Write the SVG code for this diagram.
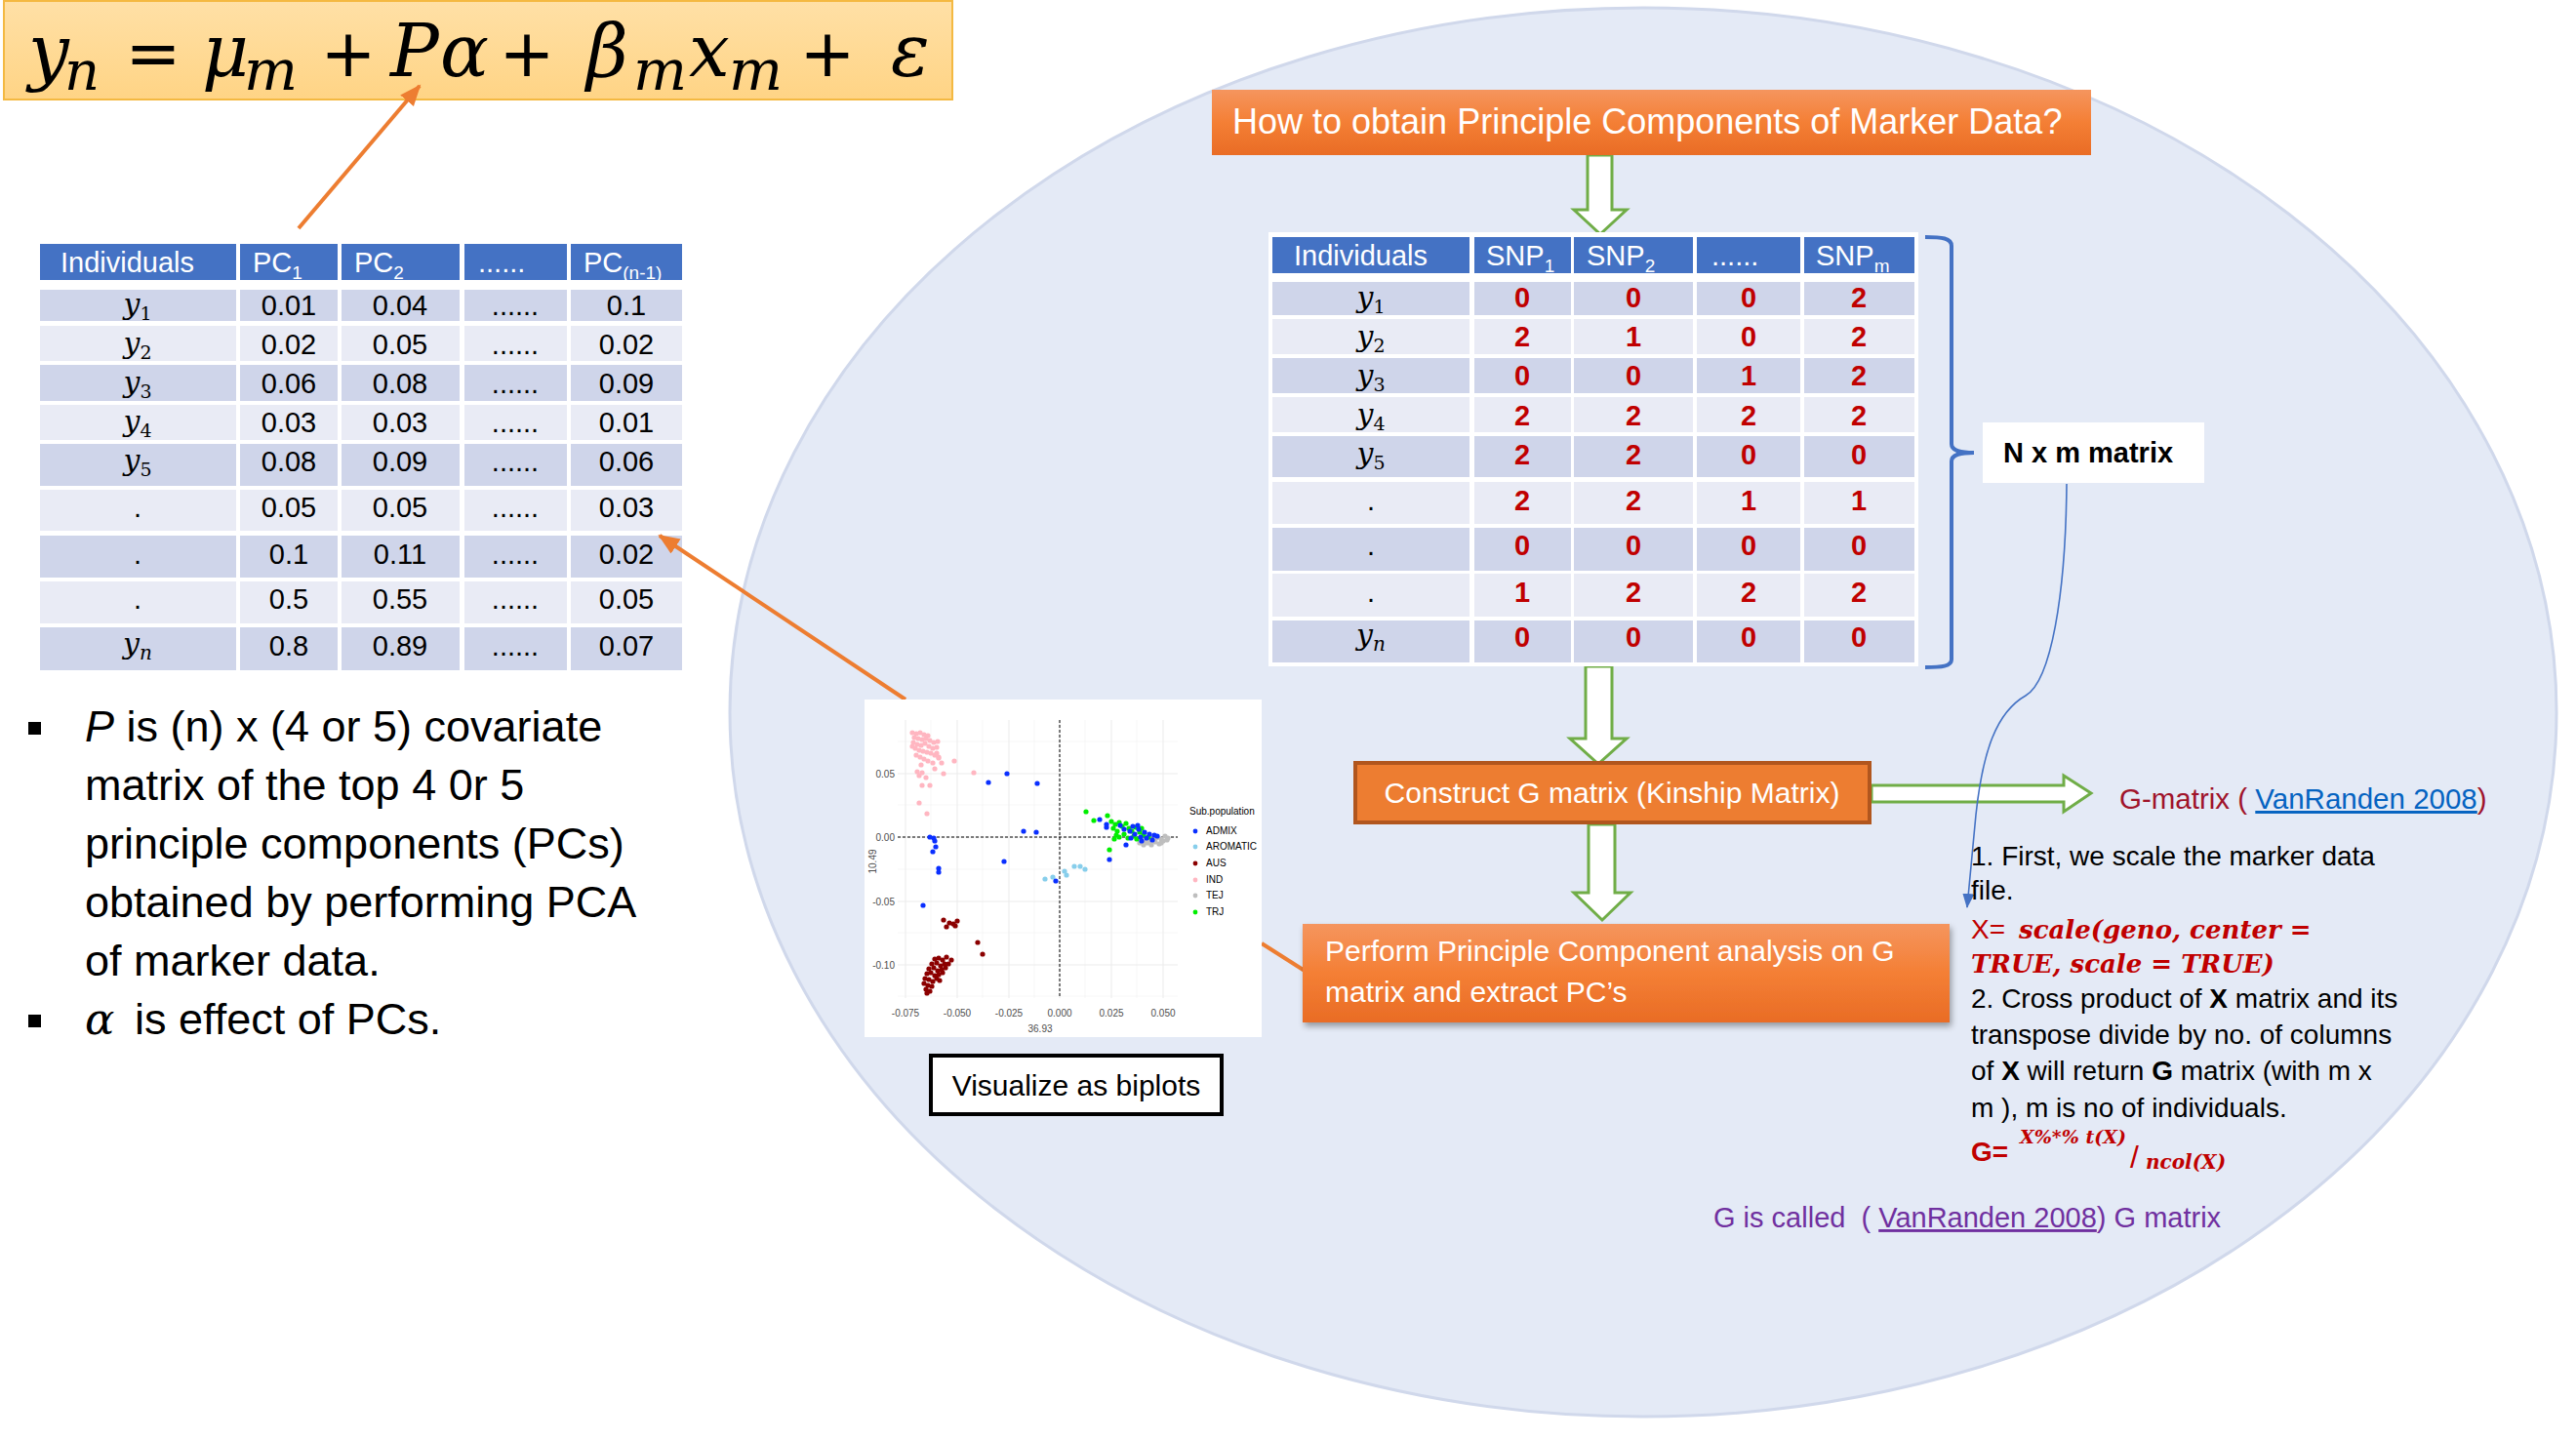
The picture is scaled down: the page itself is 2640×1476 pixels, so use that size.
<svg xmlns="http://www.w3.org/2000/svg" width="2640" height="1476" viewBox="0 0 2640 1476">
<defs>
<style>
.sans{font-family:"Liberation Sans",Arial,sans-serif}
.math{font-family:"DejaVu Serif","Liberation Serif",serif;font-style:italic}
.op{font-family:"DejaVu Sans","Liberation Sans",sans-serif;font-style:normal;text-anchor:middle}
.hd{fill:#4472C4}.dk{fill:#CFD5EA}.lt{fill:#E9EBF5}
.hdr{font-family:"Liberation Sans",Arial,sans-serif;fill:#fff;font-size:29px}
.cell{font-family:"Liberation Sans",Arial,sans-serif;font-size:29px;text-anchor:middle;fill:#000}
.yl{font-family:"DejaVu Serif","Liberation Serif",serif;font-style:italic;font-size:30px;text-anchor:middle;fill:#000}
.val{font-family:"Liberation Sans",Arial,sans-serif;font-size:29px;font-weight:bold;fill:#C00000;text-anchor:middle}
.garrow{fill:#fff;stroke:#70AD47;stroke-width:3;stroke-linejoin:miter}
.oline{stroke:#ED7D31;stroke-width:4;fill:none}
.grid{stroke:#EBEBEB;stroke-width:1}
.gridm{stroke:#F2F2F2;stroke-width:0.6}
.tick{font-family:"Liberation Sans",Arial,sans-serif;font-size:10px;fill:#4D4D4D}
.leg{font-family:"Liberation Sans",Arial,sans-serif;font-size:10px;fill:#000}
.body{font-family:"Liberation Sans",Arial,sans-serif;font-size:28px;fill:#000}
.rm{font-family:"DejaVu Serif","Liberation Serif",serif;font-style:italic;font-weight:bold;fill:#C00000}
.ind{fill:#FFB6C1}.adm{fill:#0A2FFF}.aro{fill:#87CEEB}.aus{fill:#8B0000}.tej{fill:#BEBEBE}.trj{fill:#00EE00}
</style>
<linearGradient id="eqg" x1="0" y1="0" x2="0" y2="1"><stop offset="0" stop-color="#FFE0A6"/><stop offset="1" stop-color="#FFD485"/></linearGradient>
<linearGradient id="og" x1="0" y1="0" x2="0" y2="1"><stop offset="0" stop-color="#F5955E"/><stop offset="0.5" stop-color="#F47F35"/><stop offset="1" stop-color="#E96C25"/></linearGradient>
<filter id="sh" x="-5%" y="-10%" width="110%" height="130%"><feDropShadow dx="2" dy="4" stdDeviation="3" flood-color="#000" flood-opacity="0.35"/></filter>
<marker id="oarr" markerUnits="userSpaceOnUse" markerWidth="24" markerHeight="20" refX="20" refY="9" orient="auto"><path d="M0,0 L22,9 L0,18 Z" fill="#ED7D31"/></marker>
<marker id="barr" markerUnits="userSpaceOnUse" markerWidth="16" markerHeight="14" refX="14" refY="6" orient="auto"><path d="M0,0 L15,6 L0,12 Z" fill="#4472C4"/></marker>
</defs>
<rect width="2640" height="1476" fill="#fff"/>
<ellipse id="bg-ellipse" cx="1684" cy="730" rx="936" ry="722" fill="#E4EAF6" stroke="#D0D8EB" stroke-width="3"/>

<g id="equation">
<rect x="4" y="1" width="972" height="101" fill="url(#eqg)" stroke="#F4B942" stroke-width="2"/>
<g class="math" fill="#000">
<text x="29" y="78" font-size="74">y</text>
<text x="66" y="92" font-size="56">n</text>
<text class="op" x="157" y="78" font-size="68">=</text>
<text x="207" y="78" font-size="74">μ</text>
<text x="250" y="92" font-size="58">m</text>
<text class="op" x="357" y="78" font-size="68">+</text>
<text x="400" y="78" font-size="74">P</text>
<text x="451" y="78" font-size="74">α</text>
<text class="op" x="540" y="78" font-size="68">+</text>
<text x="601" y="78" font-size="74">β</text>
<text x="649" y="92" font-size="58">m</text>
<text x="706" y="78" font-size="74">x</text>
<text x="747" y="92" font-size="58">m</text>
<text class="op" x="848" y="78" font-size="68">+</text>
<text x="913" y="78" font-size="74">ε</text>
</g>
</g>

<g id="pc-table">
<rect class="hd" x="41" y="250" width="201" height="37"/><rect class="hd" x="246" y="250" width="100" height="37"/><rect class="hd" x="350" y="250" width="121" height="37"/><rect class="hd" x="476" y="250" width="105" height="37"/><rect class="hd" x="585" y="250" width="114" height="37"/>
<g>
<rect class="dk" x="41" y="297" width="201" height="32"/><rect class="dk" x="246" y="297" width="100" height="32"/><rect class="dk" x="350" y="297" width="121" height="32"/><rect class="dk" x="476" y="297" width="105" height="32"/><rect class="dk" x="585" y="297" width="114" height="32"/>
<rect class="lt" x="41" y="334" width="201" height="36"/><rect class="lt" x="246" y="334" width="100" height="36"/><rect class="lt" x="350" y="334" width="121" height="36"/><rect class="lt" x="476" y="334" width="105" height="36"/><rect class="lt" x="585" y="334" width="114" height="36"/>
<rect class="dk" x="41" y="374" width="201" height="37"/><rect class="dk" x="246" y="374" width="100" height="37"/><rect class="dk" x="350" y="374" width="121" height="37"/><rect class="dk" x="476" y="374" width="105" height="37"/><rect class="dk" x="585" y="374" width="114" height="37"/>
<rect class="lt" x="41" y="415" width="201" height="36"/><rect class="lt" x="246" y="415" width="100" height="36"/><rect class="lt" x="350" y="415" width="121" height="36"/><rect class="lt" x="476" y="415" width="105" height="36"/><rect class="lt" x="585" y="415" width="114" height="36"/>
<rect class="dk" x="41" y="455" width="201" height="43"/><rect class="dk" x="246" y="455" width="100" height="43"/><rect class="dk" x="350" y="455" width="121" height="43"/><rect class="dk" x="476" y="455" width="105" height="43"/><rect class="dk" x="585" y="455" width="114" height="43"/>
<rect class="lt" x="41" y="502" width="201" height="42"/><rect class="lt" x="246" y="502" width="100" height="42"/><rect class="lt" x="350" y="502" width="121" height="42"/><rect class="lt" x="476" y="502" width="105" height="42"/><rect class="lt" x="585" y="502" width="114" height="42"/>
<rect class="dk" x="41" y="549" width="201" height="43"/><rect class="dk" x="246" y="549" width="100" height="43"/><rect class="dk" x="350" y="549" width="121" height="43"/><rect class="dk" x="476" y="549" width="105" height="43"/><rect class="dk" x="585" y="549" width="114" height="43"/>
<rect class="lt" x="41" y="596" width="201" height="43"/><rect class="lt" x="246" y="596" width="100" height="43"/><rect class="lt" x="350" y="596" width="121" height="43"/><rect class="lt" x="476" y="596" width="105" height="43"/><rect class="lt" x="585" y="596" width="114" height="43"/>
<rect class="dk" x="41" y="643" width="201" height="44"/><rect class="dk" x="246" y="643" width="100" height="44"/><rect class="dk" x="350" y="643" width="121" height="44"/><rect class="dk" x="476" y="643" width="105" height="44"/><rect class="dk" x="585" y="643" width="114" height="44"/>
</g>
<text class="hdr" x="62" y="279">Individuals</text>
<text class="hdr" x="259" y="279">PC<tspan font-size="19" dy="7">1</tspan></text>
<text class="hdr" x="363" y="279">PC<tspan font-size="19" dy="7">2</tspan></text>
<text class="hdr" x="490" y="279">......</text>
<text class="hdr" x="598" y="279">PC<tspan font-size="19" dy="7">(n-1)</tspan></text>
<text class="yl" x="141" y="322">y<tspan font-size="19" font-style="normal" dy="6">1</tspan></text>
<text class="yl" x="141" y="362">y<tspan font-size="19" font-style="normal" dy="6">2</tspan></text>
<text class="yl" x="141" y="402">y<tspan font-size="19" font-style="normal" dy="6">3</tspan></text>
<text class="yl" x="141" y="442">y<tspan font-size="19" font-style="normal" dy="6">4</tspan></text>
<text class="yl" x="141" y="482">y<tspan font-size="19" font-style="normal" dy="6">5</tspan></text>
<text class="cell" x="141" y="530">.</text>
<text class="cell" x="141" y="578">.</text>
<text class="cell" x="141" y="624">.</text>
<text class="yl" x="141" y="670">y<tspan font-size="20" dy="6">n</tspan></text>
<g class="cell">
<text x="296" y="323">0.01</text><text x="410" y="323">0.04</text><text x="528" y="323">......</text><text x="642" y="323">0.1</text>
<text x="296" y="363">0.02</text><text x="410" y="363">0.05</text><text x="528" y="363">......</text><text x="642" y="363">0.02</text>
<text x="296" y="403">0.06</text><text x="410" y="403">0.08</text><text x="528" y="403">......</text><text x="642" y="403">0.09</text>
<text x="296" y="443">0.03</text><text x="410" y="443">0.03</text><text x="528" y="443">......</text><text x="642" y="443">0.01</text>
<text x="296" y="483">0.08</text><text x="410" y="483">0.09</text><text x="528" y="483">......</text><text x="642" y="483">0.06</text>
<text x="296" y="530">0.05</text><text x="410" y="530">0.05</text><text x="528" y="530">......</text><text x="642" y="530">0.03</text>
<text x="296" y="578">0.1</text><text x="410" y="578">0.11</text><text x="528" y="578">......</text><text x="642" y="578">0.02</text>
<text x="296" y="624">0.5</text><text x="410" y="624">0.55</text><text x="528" y="624">......</text><text x="642" y="624">0.05</text>
<text x="296" y="672">0.8</text><text x="410" y="672">0.89</text><text x="528" y="672">......</text><text x="642" y="672">0.07</text>
</g>
</g>

<g id="bullets">
<rect x="29" y="740" width="13" height="13" fill="#000"/>
<rect x="29" y="1040" width="13" height="13" fill="#000"/>
<g class="sans" font-size="45" fill="#000">
<text x="87" y="760"><tspan font-style="italic">P</tspan> is (n) x (4 or 5) covariate</text>
<text x="87" y="820">matrix of the top 4 0r 5</text>
<text x="87" y="880">principle components (PCs)</text>
<text x="87" y="940">obtained by performing PCA</text>
<text x="87" y="1000">of marker data.</text>
<text x="87" y="1060"><tspan font-family="DejaVu Serif, serif" font-style="italic">α</tspan><tspan x="138">is effect of PCs.</tspan></text>
</g>
</g>

<g id="connectors">
<line class="oline" x1="306" y1="234" x2="430" y2="88" marker-end="url(#oarr)"/>
<line class="oline" x1="928" y1="717" x2="676" y2="549" marker-end="url(#oarr)"/>
<line class="oline" x1="1293" y1="967" x2="1337" y2="995"/>
<polygon class="garrow" points="1627,159 1652,159 1652,215 1667,215 1640,240 1613,215 1627,215"/>
<polygon class="garrow" points="1625,683 1652,683 1652,757 1667,757 1638,783 1609,757 1625,757"/>
<polygon class="garrow" points="1628,845 1655,845 1655,915 1671,915 1642,943 1613,915 1628,915"/>
<polygon class="garrow" points="1918,805 2115,805 2115,795 2143,813 2115,832 2115,822 1918,822"/>
<path d="M2118,496 C2117,610 2102,698 2076,713 C2046,730 2032,770 2025,835 L2016,930" fill="none" stroke="#4472C4" stroke-width="1.6" marker-end="url(#barr)"/>
</g>

<g id="plot">
<rect x="886" y="717" width="407" height="346" fill="#fff"/>
<g class="gridm">
<line x1="920" y1="760" x2="1207" y2="760"/><line x1="920" y1="825" x2="1207" y2="825"/><line x1="920" y1="891" x2="1207" y2="891"/><line x1="920" y1="956" x2="1207" y2="956"/><line x1="920" y1="1021" x2="1207" y2="1021"/>
<line x1="954" y1="738" x2="954" y2="1023"/><line x1="1007" y1="738" x2="1007" y2="1023"/><line x1="1060" y1="738" x2="1060" y2="1023"/><line x1="1112" y1="738" x2="1112" y2="1023"/><line x1="1165" y1="738" x2="1165" y2="1023"/>
</g>
<g class="grid">
<line x1="920" y1="793" x2="1207" y2="793"/><line x1="920" y1="858" x2="1207" y2="858"/><line x1="920" y1="924" x2="1207" y2="924"/><line x1="920" y1="989" x2="1207" y2="989"/>
<line x1="928" y1="738" x2="928" y2="1023"/><line x1="981" y1="738" x2="981" y2="1023"/><line x1="1034" y1="738" x2="1034" y2="1023"/><line x1="1086" y1="738" x2="1086" y2="1023"/><line x1="1139" y1="738" x2="1139" y2="1023"/><line x1="1192" y1="738" x2="1192" y2="1023"/>
</g>
<line x1="1086" y1="738" x2="1086" y2="1023" stroke="#000" stroke-width="1" stroke-dasharray="3,2"/>
<line x1="920" y1="858" x2="1207" y2="858" stroke="#000" stroke-width="1.2" stroke-dasharray="3,2"/>
<g class="ind">
<circle cx="935" cy="751" r="2.6"/><circle cx="939" cy="752" r="2.6"/><circle cx="943" cy="751" r="2.6"/><circle cx="947" cy="753" r="2.6"/><circle cx="951" cy="754" r="2.6"/><circle cx="937" cy="756" r="2.6"/><circle cx="941" cy="757" r="2.6"/><circle cx="945" cy="758" r="2.6"/><circle cx="949" cy="757" r="2.6"/><circle cx="953" cy="759" r="2.6"/><circle cx="957" cy="761" r="2.6"/><circle cx="961" cy="760" r="2.6"/><circle cx="936" cy="761" r="2.6"/><circle cx="940" cy="763" r="2.6"/><circle cx="944" cy="764" r="2.6"/><circle cx="948" cy="762" r="2.6"/><circle cx="952" cy="765" r="2.6"/><circle cx="956" cy="767" r="2.6"/><circle cx="960" cy="766" r="2.6"/><circle cx="938" cy="767" r="2.6"/><circle cx="942" cy="769" r="2.6"/><circle cx="946" cy="770" r="2.6"/><circle cx="950" cy="771" r="2.6"/><circle cx="954" cy="772" r="2.6"/><circle cx="958" cy="774" r="2.6"/><circle cx="962" cy="776" r="2.6"/><circle cx="935" cy="765" r="2.6"/><circle cx="939" cy="774" r="2.6"/><circle cx="943" cy="776" r="2.6"/><circle cx="947" cy="778" r="2.6"/><circle cx="951" cy="780" r="2.6"/><circle cx="956" cy="782" r="2.6"/><circle cx="960" cy="772" r="2.6"/><circle cx="962" cy="777" r="2.6"/><circle cx="965" cy="782" r="2.6"/><circle cx="967" cy="793" r="2.6"/><circle cx="940" cy="791" r="2.6"/><circle cx="942" cy="795" r="2.6"/><circle cx="945" cy="792" r="2.6"/><circle cx="949" cy="797" r="2.6"/><circle cx="945" cy="805" r="2.6"/><circle cx="953" cy="805" r="2.6"/><circle cx="942" cy="823" r="2.6"/><circle cx="950" cy="834" r="2.6"/><circle cx="978" cy="780" r="2.6"/><circle cx="998" cy="792" r="2.6"/><circle cx="944" cy="784" r="2.6"/><circle cx="958" cy="788" r="2.6"/>
</g>
<g class="aro">
<circle cx="1071" cy="901" r="2.6"/><circle cx="1079" cy="899" r="2.6"/><circle cx="1091" cy="893" r="2.6"/><circle cx="1093" cy="897" r="2.6"/><circle cx="1101" cy="888" r="2.6"/><circle cx="1107" cy="888" r="2.6"/><circle cx="1112" cy="891" r="2.6"/>
</g>
<g class="tej">
<circle cx="1170" cy="860" r="2.6"/><circle cx="1174" cy="863" r="2.6"/><circle cx="1178" cy="857" r="2.6"/><circle cx="1182" cy="861" r="2.6"/><circle cx="1186" cy="858" r="2.6"/><circle cx="1190" cy="860" r="2.6"/><circle cx="1194" cy="857" r="2.6"/><circle cx="1197" cy="859" r="2.6"/><circle cx="1172" cy="866" r="2.6"/><circle cx="1176" cy="864" r="2.6"/><circle cx="1180" cy="866" r="2.6"/><circle cx="1184" cy="863" r="2.6"/><circle cx="1188" cy="865" r="2.6"/><circle cx="1192" cy="862" r="2.6"/><circle cx="1196" cy="861" r="2.6"/><circle cx="1168" cy="864" r="2.6"/><circle cx="1185" cy="859" r="2.6"/><circle cx="1178" cy="862" r="2.6"/><circle cx="1190" cy="864" r="2.6"/>
</g>
<g class="trj">
<circle cx="1113" cy="832" r="2.6"/><circle cx="1121" cy="841" r="2.6"/><circle cx="1135" cy="836" r="2.6"/><circle cx="1137" cy="871" r="2.6"/><circle cx="1139" cy="842" r="2.6"/><circle cx="1143" cy="845" r="2.6"/><circle cx="1147" cy="843" r="2.6"/><circle cx="1141" cy="849" r="2.6"/><circle cx="1145" cy="852" r="2.6"/><circle cx="1150" cy="847" r="2.6"/><circle cx="1154" cy="844" r="2.6"/><circle cx="1157" cy="849" r="2.6"/><circle cx="1152" cy="855" r="2.6"/><circle cx="1160" cy="852" r="2.6"/><circle cx="1164" cy="848" r="2.6"/><circle cx="1168" cy="853" r="2.6"/><circle cx="1162" cy="857" r="2.6"/><circle cx="1156" cy="859" r="2.6"/><circle cx="1172" cy="856" r="2.6"/><circle cx="1147" cy="858" r="2.6"/><circle cx="1144" cy="856" r="2.6"/><circle cx="1170" cy="849" r="2.6"/><circle cx="1165" cy="860" r="2.6"/><circle cx="1177" cy="858" r="2.6"/><circle cx="1142" cy="860" r="2.6"/>
</g>
<g class="adm">
<circle cx="1032" cy="793" r="2.6"/><circle cx="1013" cy="802" r="2.6"/><circle cx="1063" cy="803" r="2.6"/><circle cx="1049" cy="852" r="2.6"/><circle cx="1062" cy="853" r="2.6"/><circle cx="953" cy="858" r="2.6"/><circle cx="957" cy="859" r="2.6"/><circle cx="958" cy="862" r="2.6"/><circle cx="959" cy="868" r="2.6"/><circle cx="956" cy="873" r="2.6"/><circle cx="962" cy="890" r="2.6"/><circle cx="962" cy="894" r="2.6"/><circle cx="1029" cy="883" r="2.6"/><circle cx="946" cy="928" r="2.6"/><circle cx="1082" cy="903" r="2.6"/><circle cx="1127" cy="840" r="2.6"/><circle cx="1134" cy="845" r="2.6"/><circle cx="1134" cy="848" r="2.6"/><circle cx="1154" cy="866" r="2.6"/><circle cx="1137" cy="881" r="2.6"/><circle cx="1148" cy="846" r="2.6"/><circle cx="1152" cy="850" r="2.6"/><circle cx="1158" cy="852" r="2.6"/><circle cx="1161" cy="847" r="2.6"/><circle cx="1163" cy="855" r="2.6"/><circle cx="1167" cy="850" r="2.6"/><circle cx="1169" cy="858" r="2.6"/><circle cx="1173" cy="853" r="2.6"/><circle cx="1175" cy="859" r="2.6"/><circle cx="1178" cy="855" r="2.6"/><circle cx="1181" cy="861" r="2.6"/><circle cx="1183" cy="856" r="2.6"/><circle cx="1159" cy="859" r="2.6"/><circle cx="1170" cy="862" r="2.6"/><circle cx="1186" cy="857" r="2.6"/><circle cx="1166" cy="846" r="2.6"/>
</g>
<g class="aus">
<circle cx="958" cy="983" r="2.6"/><circle cx="962" cy="982" r="2.6"/><circle cx="966" cy="984" r="2.6"/><circle cx="955" cy="988" r="2.6"/><circle cx="960" cy="987" r="2.6"/><circle cx="964" cy="990" r="2.6"/><circle cx="968" cy="988" r="2.6"/><circle cx="952" cy="993" r="2.6"/><circle cx="957" cy="992" r="2.6"/><circle cx="961" cy="995" r="2.6"/><circle cx="965" cy="994" r="2.6"/><circle cx="969" cy="992" r="2.6"/><circle cx="950" cy="998" r="2.6"/><circle cx="954" cy="997" r="2.6"/><circle cx="958" cy="1000" r="2.6"/><circle cx="962" cy="999" r="2.6"/><circle cx="966" cy="997" r="2.6"/><circle cx="948" cy="1003" r="2.6"/><circle cx="952" cy="1004" r="2.6"/><circle cx="956" cy="1006" r="2.6"/><circle cx="960" cy="1003" r="2.6"/><circle cx="947" cy="1008" r="2.6"/><circle cx="951" cy="1010" r="2.6"/><circle cx="955" cy="1011" r="2.6"/><circle cx="949" cy="1014" r="2.6"/><circle cx="953" cy="1016" r="2.6"/><circle cx="972" cy="988" r="2.6"/><circle cx="975" cy="984" r="2.6"/><circle cx="963" cy="1005" r="2.6"/><circle cx="970" cy="981" r="2.6"/><circle cx="950" cy="1018" r="2.6"/><circle cx="970" cy="950" r="2.6"/><circle cx="967" cy="943" r="2.6"/><circle cx="973" cy="946" r="2.6"/><circle cx="977" cy="947" r="2.6"/><circle cx="981" cy="944" r="2.6"/><circle cx="979" cy="949" r="2.6"/><circle cx="1002" cy="966" r="2.6"/><circle cx="1007" cy="978" r="2.6"/>
</g>
<g class="tick" text-anchor="end">
<text x="917" y="797">0.05</text><text x="917" y="862">0.00</text><text x="917" y="928">-0.05</text><text x="917" y="993">-0.10</text>
</g>
<g class="tick" text-anchor="middle">
<text x="928" y="1042">-0.075</text><text x="981" y="1042">-0.050</text><text x="1034" y="1042">-0.025</text><text x="1086" y="1042">0.000</text><text x="1139" y="1042">0.025</text><text x="1192" y="1042">0.050</text>
<text x="1066" y="1058">36.93</text>
<text x="0" y="0" transform="translate(898,883) rotate(-90)">10.49</text>
</g>
<text class="leg" x="1219" y="835">Sub.population</text>
<circle class="adm" cx="1225" cy="852" r="2.4"/><circle class="aro" cx="1225" cy="868" r="2.4"/><circle class="aus" cx="1225" cy="885" r="2.4"/><circle class="ind" cx="1225" cy="902" r="2.4"/><circle class="tej" cx="1225" cy="918" r="2.4"/><circle class="trj" cx="1225" cy="935" r="2.4"/>
<g class="leg" font-size="9">
<text x="1236" y="855">ADMIX</text><text x="1236" y="871">AROMATIC</text><text x="1236" y="888">AUS</text><text x="1236" y="905">IND</text><text x="1236" y="921">TEJ</text><text x="1236" y="938">TRJ</text>
</g>
</g>

<g id="biplot-label">
<rect x="954" y="1082" width="298" height="60" fill="#fff" stroke="#000" stroke-width="4"/>
<text class="sans" x="1103" y="1123" font-size="30" text-anchor="middle" fill="#000">Visualize as biplots</text>
</g>

<g id="question-box">
<rect x="1242" y="92" width="901" height="67" fill="url(#og)"/>
<text class="sans" x="1263" y="137" font-size="36" fill="#fff">How to obtain Principle Components of Marker Data?</text>
</g>

<g id="snp-table">
<rect x="1300" y="238" width="666" height="445" fill="#fff"/>
<rect class="hd" x="1304" y="243" width="202" height="37"/><rect class="hd" x="1511" y="243" width="99" height="37"/><rect class="hd" x="1613" y="243" width="122" height="37"/><rect class="hd" x="1739" y="243" width="106" height="37"/><rect class="hd" x="1849" y="243" width="113" height="37"/>
<rect class="dk" x="1304" y="289" width="202" height="34"/><rect class="dk" x="1511" y="289" width="99" height="34"/><rect class="dk" x="1613" y="289" width="122" height="34"/><rect class="dk" x="1739" y="289" width="106" height="34"/><rect class="dk" x="1849" y="289" width="113" height="34"/>
<rect class="lt" x="1304" y="327" width="202" height="36"/><rect class="lt" x="1511" y="327" width="99" height="36"/><rect class="lt" x="1613" y="327" width="122" height="36"/><rect class="lt" x="1739" y="327" width="106" height="36"/><rect class="lt" x="1849" y="327" width="113" height="36"/>
<rect class="dk" x="1304" y="367" width="202" height="36"/><rect class="dk" x="1511" y="367" width="99" height="36"/><rect class="dk" x="1613" y="367" width="122" height="36"/><rect class="dk" x="1739" y="367" width="106" height="36"/><rect class="dk" x="1849" y="367" width="113" height="36"/>
<rect class="lt" x="1304" y="407" width="202" height="36"/><rect class="lt" x="1511" y="407" width="99" height="36"/><rect class="lt" x="1613" y="407" width="122" height="36"/><rect class="lt" x="1739" y="407" width="106" height="36"/><rect class="lt" x="1849" y="407" width="113" height="36"/>
<rect class="dk" x="1304" y="447" width="202" height="42"/><rect class="dk" x="1511" y="447" width="99" height="42"/><rect class="dk" x="1613" y="447" width="122" height="42"/><rect class="dk" x="1739" y="447" width="106" height="42"/><rect class="dk" x="1849" y="447" width="113" height="42"/>
<rect class="lt" x="1304" y="494" width="202" height="43"/><rect class="lt" x="1511" y="494" width="99" height="43"/><rect class="lt" x="1613" y="494" width="122" height="43"/><rect class="lt" x="1739" y="494" width="106" height="43"/><rect class="lt" x="1849" y="494" width="113" height="43"/>
<rect class="dk" x="1304" y="541" width="202" height="44"/><rect class="dk" x="1511" y="541" width="99" height="44"/><rect class="dk" x="1613" y="541" width="122" height="44"/><rect class="dk" x="1739" y="541" width="106" height="44"/><rect class="dk" x="1849" y="541" width="113" height="44"/>
<rect class="lt" x="1304" y="588" width="202" height="44"/><rect class="lt" x="1511" y="588" width="99" height="44"/><rect class="lt" x="1613" y="588" width="122" height="44"/><rect class="lt" x="1739" y="588" width="106" height="44"/><rect class="lt" x="1849" y="588" width="113" height="44"/>
<rect class="dk" x="1304" y="636" width="202" height="43"/><rect class="dk" x="1511" y="636" width="99" height="43"/><rect class="dk" x="1613" y="636" width="122" height="43"/><rect class="dk" x="1739" y="636" width="106" height="43"/><rect class="dk" x="1849" y="636" width="113" height="43"/>
<text class="hdr" x="1326" y="272">Individuals</text>
<text class="hdr" x="1523" y="272">SNP<tspan font-size="19" dy="7">1</tspan></text>
<text class="hdr" x="1626" y="272">SNP<tspan font-size="19" dy="7">2</tspan></text>
<text class="hdr" x="1754" y="272">......</text>
<text class="hdr" x="1861" y="272">SNP<tspan font-size="19" dy="7">m</tspan></text>
<text class="yl" x="1405" y="315">y<tspan font-size="19" font-style="normal" dy="6">1</tspan></text>
<text class="yl" x="1405" y="355">y<tspan font-size="19" font-style="normal" dy="6">2</tspan></text>
<text class="yl" x="1405" y="395">y<tspan font-size="19" font-style="normal" dy="6">3</tspan></text>
<text class="yl" x="1405" y="435">y<tspan font-size="19" font-style="normal" dy="6">4</tspan></text>
<text class="yl" x="1405" y="475">y<tspan font-size="19" font-style="normal" dy="6">5</tspan></text>
<text class="cell" x="1405" y="523">.</text>
<text class="cell" x="1405" y="569">.</text>
<text class="cell" x="1405" y="617">.</text>
<text class="yl" x="1405" y="661">y<tspan font-size="20" dy="6">n</tspan></text>
<g class="val">
<text x="1560" y="315">0</text><text x="1674" y="315">0</text><text x="1792" y="315">0</text><text x="1905" y="315">2</text>
<text x="1560" y="355">2</text><text x="1674" y="355">1</text><text x="1792" y="355">0</text><text x="1905" y="355">2</text>
<text x="1560" y="395">0</text><text x="1674" y="395">0</text><text x="1792" y="395">1</text><text x="1905" y="395">2</text>
<text x="1560" y="436">2</text><text x="1674" y="436">2</text><text x="1792" y="436">2</text><text x="1905" y="436">2</text>
<text x="1560" y="476">2</text><text x="1674" y="476">2</text><text x="1792" y="476">0</text><text x="1905" y="476">0</text>
<text x="1560" y="523">2</text><text x="1674" y="523">2</text><text x="1792" y="523">1</text><text x="1905" y="523">1</text>
<text x="1560" y="569">0</text><text x="1674" y="569">0</text><text x="1792" y="569">0</text><text x="1905" y="569">0</text>
<text x="1560" y="617">1</text><text x="1674" y="617">2</text><text x="1792" y="617">2</text><text x="1905" y="617">2</text>
<text x="1560" y="663">0</text><text x="1674" y="663">0</text><text x="1792" y="663">0</text><text x="1905" y="663">0</text>
</g>
</g>

<g id="brace">
<path d="M1973,243 C1990,243 2000,244 2000,252 L2000,455 C2000,462 2008,464 2023,464 C2008,464 2000,466 2000,473 L2000,676 C2000,683 1990,684 1973,684" fill="none" stroke="#4472C4" stroke-width="4"/>
</g>

<g id="nxm-label">
<rect x="2032" y="433" width="227" height="62" fill="#fff"/>
<text class="sans" x="2053" y="474" font-size="29" font-weight="bold" fill="#000">N x m matrix</text>
</g>

<g id="construct-box">
<rect x="1389" y="782" width="527" height="61" fill="#ED7D31" stroke="#B1561E" stroke-width="4"/>
<text class="sans" x="1652" y="823" font-size="30" fill="#fff" text-anchor="middle">Construct G matrix (Kinship Matrix)</text>
</g>

<g id="gmatrix-label">
<text class="sans" x="2172" y="829" font-size="29.5" fill="#A0142B">G-matrix ( <tspan fill="#0563C1" text-decoration="underline">VanRanden 2008</tspan>)</text>
</g>

<g id="perform-box">
<rect x="1335" y="947" width="663" height="101" fill="url(#og)" filter="url(#sh)"/>
<text class="sans" x="1358" y="985" font-size="30" fill="#fff">Perform Principle Component analysis on G</text>
<text class="sans" x="1358" y="1027" font-size="30" fill="#fff">matrix and extract PC’s</text>
</g>

<g id="steps-text">
<text class="body" x="2020" y="887">1. First, we scale the marker data</text>
<text class="body" x="2020" y="922">file.</text>
<text x="2020" y="962" fill="#C00000"><tspan class="sans" font-size="28">X=</tspan><tspan class="rm" font-size="26" x="2069">scale(geno, center =</tspan></text>
<text class="rm" x="2020" y="997" font-size="26">TRUE, scale = TRUE)</text>
<text class="body" x="2020" y="1033">2. Cross product of <tspan font-weight="bold">X</tspan> matrix and its</text>
<text class="body" x="2020" y="1070">transpose divide by no. of columns</text>
<text class="body" x="2020" y="1107">of <tspan font-weight="bold">X</tspan> will return <tspan font-weight="bold">G</tspan> matrix (with m x</text>
<text class="body" x="2020" y="1145">m ), m is no of individuals.</text>
<text class="sans" x="2020" y="1190" font-size="28" font-weight="bold" fill="#C00000">G=</text>
<text class="rm" x="2070" y="1172" font-size="19">X%*% t(X)</text>
<text class="sans" x="2183" y="1197" font-size="32" fill="#C00000">/</text>
<text class="rm" x="2199" y="1198" font-size="20">ncol(X)</text>
</g>

<g id="g-called">
<text class="sans" x="1756" y="1258" font-size="29" fill="#7030A0" xml:space="preserve">G is called  ( <tspan text-decoration="underline">VanRanden 2008</tspan>) G matrix</text>
</g>
</svg>
